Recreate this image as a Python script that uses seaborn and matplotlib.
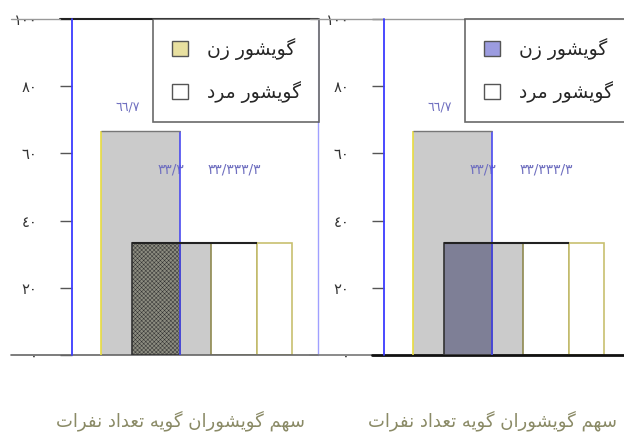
import matplotlib
matplotlib.use('Agg')
import matplotlib.pyplot as plt
import matplotlib.patches as mpatches
import seaborn as sns

# ---- data ----
y_ticks = [0, 20, 40, 60, 80, 100]
y_tick_labels = ['٠', '٢٠', '٤٠', '٦٠', '٨٠', '١٠٠']
series_names = ['گویشور زن', 'گویشور مرد']
bar_values = [66.7, 33.3, 33.3, 33.3, 33.3]          # tall grey, dark, grey, white, white
value_labels = ['٦٦/٧', '٣٣/٣', '٣٣/٣٣٣/٣']
x_title = 'سهم گویشوران گویه تعداد نفرات'

# ---- layout / style (not data) ----
bar_left = [0.116, 0.242, 0.439, 0.565, 0.754]
bar_right = [0.439, 0.439, 0.565, 0.754, 0.896]
panel_dark = ['#8c8c80', '#7e7f96']
panel_legend = ['#e8e0a0', '#9c9ce0']
panel_hatch = ['xxxxxxxx', None]

sns.set_style('white')
plt.rcParams['font.family'] = ['DejaVu Sans']
plt.rcParams['hatch.linewidth'] = 0.35

# simple arabic-script shaping (matplotlib does not shape / reorder rtl text)
FORMS = {
    'ا': ('\uFE8D', '\uFE8E', None, None),
    'ت': ('\uFE95', '\uFE96', '\uFE97', '\uFE98'),
    'د': ('\uFEA9', '\uFEAA', None, None),
    'ر': ('\uFEAD', '\uFEAE', None, None),
    'ز': ('\uFEAF', '\uFEB0', None, None),
    'س': ('\uFEB1', '\uFEB2', '\uFEB3', '\uFEB4'),
    'ش': ('\uFEB5', '\uFEB6', '\uFEB7', '\uFEB8'),
    'ع': ('\uFEC9', '\uFECA', '\uFECB', '\uFECC'),
    'ف': ('\uFED1', '\uFED2', '\uFED3', '\uFED4'),
    'م': ('\uFEE1', '\uFEE2', '\uFEE3', '\uFEE4'),
    'ن': ('\uFEE5', '\uFEE6', '\uFEE7', '\uFEE8'),
    'ه': ('\uFEE9', '\uFEEA', '\uFEEB', '\uFEEC'),
    'و': ('\uFEED', '\uFEEE', None, None),
    'ی': ('\uFBFC', '\uFBFD', '\uFBFE', '\uFBFF'),
    'گ': ('\uFB92', '\uFB93', '\uFB94', '\uFB95'),
}


def shape(text):
    out = []
    for i, c in enumerate(text):
        if c not in FORMS:
            out.append(c)
            continue
        prev = text[i - 1] if i > 0 else None
        nxt = text[i + 1] if i + 1 < len(text) else None
        iso, fin, ini, med = FORMS[c]
        jp = prev in FORMS and FORMS[prev][2] is not None
        jn = nxt in FORMS and ini is not None
        if jp and jn:
            out.append(med)
        elif jp:
            out.append(fin)
        elif jn:
            out.append(ini)
        else:
            out.append(iso)
    return ''.join(reversed(out))


fig = plt.figure(figsize=(6.24, 4.32), dpi=100)
ax_l = fig.add_axes([72 / 624, 77 / 432, 246 / 624, 336 / 432])
ax_r = fig.add_axes([384 / 624, 77 / 432, 246 / 624, 336 / 432])

for k, ax in enumerate([ax_l, ax_r]):
    ax.set_xlim(0, 1)
    ax.set_ylim(0, 100)
    colors = ['#cbcbcb', panel_dark[k], '#cbcbcb', 'white', 'white']
    edges = ['none', '#333333', 'none', '#8f8a50', '#c8c070']
    order = [0, 2, 3, 4, 1]
    for i in order:
        ax.bar(bar_left[i], bar_values[i], bar_right[i] - bar_left[i], align='edge',
               color=colors[i], edgecolor=edges[i], linewidth=1.2,
               hatch=panel_hatch[k] if i == 1 else None, zorder=2 + (i == 1))
    # coloured edges of the tall bar
    ax.vlines(bar_left[0], 0, bar_values[0], color='#e8dc40', lw=1.2, zorder=4)
    ax.vlines(bar_right[0], 0, bar_values[0], color='#4a4af0', lw=1.2, zorder=4)
    ax.hlines(bar_values[0], bar_left[0], bar_right[0], color='#777777', lw=1, zorder=4)
    ax.hlines(bar_values[1], bar_left[1], bar_right[3], color='#222222', lw=1.5, zorder=4)

    # value labels
    lab_col = '#7070c0'
    ax.text(0.228, bar_values[0] + 7, value_labels[0], ha='center',
            va='center', fontsize=9, color=lab_col)
    ax.text(0.40, bar_values[1] + 22, value_labels[1], ha='center',
            va='center', fontsize=10, color=lab_col)
    ax.text(0.66, bar_values[2] + 22, value_labels[2], ha='center',
            va='center', fontsize=10, color=lab_col)

    ax.set_yticks(y_ticks)
    ax.set_yticklabels(y_tick_labels, fontsize=10.5, color='#333333')
    ax.set_xticks([])
    ax.tick_params(axis='y', left=True, length=9, width=1, color='#555555', pad=16)

    for s in ['left', 'right', 'top', 'bottom']:
        ax.spines[s].set_visible(False)
    ax.plot([0, 0], [0, 1], transform=ax.transAxes, color='#3c3cff', lw=1.3,
            clip_on=False, zorder=6)

    ax.set_xlabel(shape(x_title), fontsize=13, color='#8a8a66')
    ax.xaxis.set_label_coords(0.44, -0.165)

    handles = [mpatches.Patch(facecolor=panel_legend[k], edgecolor='#555555', lw=1),
               mpatches.Patch(facecolor='white', edgecolor='#555555', lw=1)]
    leg = ax.legend(handles, [shape(n) for n in series_names], loc='upper left',
                    bbox_to_anchor=(0.33, 1.0), fontsize=13.5, frameon=True, fancybox=False,
                    handlelength=0.85, handleheight=0.85, labelspacing=1.15,
                    borderpad=1.0, handletextpad=1.0, borderaxespad=0)
    leg.get_frame().set_edgecolor('#444444')
    leg.get_frame().set_linewidth(1.2)
    leg.set_zorder(10)

# frame lines of the two panels
ax_l.plot([-0.05, 1], [1, 1], transform=ax_l.transAxes, color='#222222', lw=1.5, clip_on=False)
ax_l.plot([-0.25, -0.05], [1, 1], transform=ax_l.transAxes, color='#999999', lw=1, clip_on=False)
ax_l.plot([-0.25, 1], [0, 0], transform=ax_l.transAxes, color='#666666', lw=1.2, clip_on=False)
ax_l.plot([1, 1], [0, 1], transform=ax_l.transAxes, color='#a0a0ff', lw=1, clip_on=False)
ax_r.plot([-0.3, 1], [1, 1], transform=ax_r.transAxes, color='#999999', lw=1, clip_on=False)
ax_r.plot([-0.3, -0.05], [0, 0], transform=ax_r.transAxes, color='#777777', lw=1.2, clip_on=False)
ax_r.plot([-0.05, 1], [0, 0], transform=ax_r.transAxes, color='#111111', lw=2, clip_on=False)

fig.savefig('out.png', dpi=100)
